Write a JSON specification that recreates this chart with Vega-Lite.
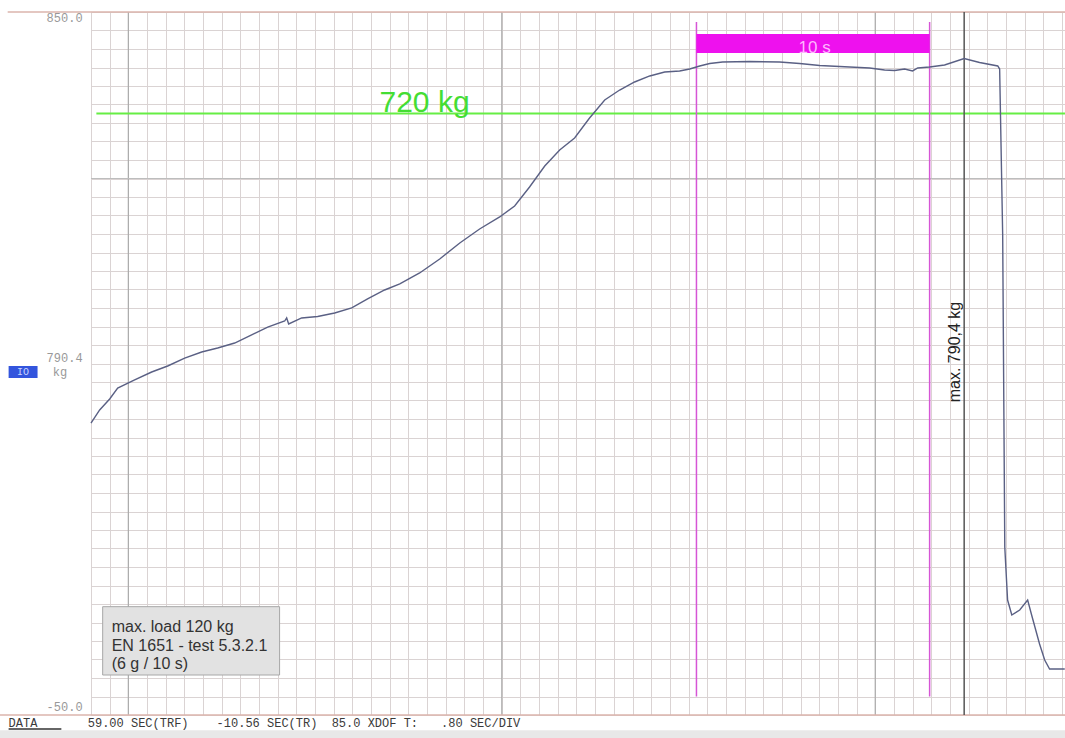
{
  "$schema": "https://vega.github.io/schema/vega-lite/v6.json",
  "width": 974,
  "height": 703,
  "autosize": "none",
  "padding": {"left": 91, "top": 12, "right": 0, "bottom": 23},
  "background": "white",
  "config": {"view": {"stroke": null}},
  "datasets": {
    "curve": [
      {"t": 0.0, "kg": 323.8}, {"t": 0.371, "kg": 340.5}, {"t": 0.8, "kg": 354.6}, {"t": 1.143, "kg": 368.6},
      {"t": 1.871, "kg": 378.9}, {"t": 2.599, "kg": 389.1}, {"t": 3.285, "kg": 396.8}, {"t": 4.013, "kg": 407.0},
      {"t": 4.742, "kg": 414.7}, {"t": 5.427, "kg": 419.8}, {"t": 6.156, "kg": 426.2}, {"t": 6.884, "kg": 436.5},
      {"t": 7.57, "kg": 446.7}, {"t": 8.298, "kg": 454.4}, {"t": 8.383, "kg": 458.3}, {"t": 8.469, "kg": 450.6},
      {"t": 9.026, "kg": 458.3}, {"t": 9.711, "kg": 460.2}, {"t": 10.44, "kg": 464.7}, {"t": 11.17, "kg": 471.1},
      {"t": 11.85, "kg": 482.6}, {"t": 12.58, "kg": 494.1}, {"t": 13.23, "kg": 501.8}, {"t": 14.08, "kg": 515.9},
      {"t": 14.94, "kg": 533.8}, {"t": 15.8, "kg": 554.3}, {"t": 16.65, "kg": 572.2}, {"t": 17.51, "kg": 587.6},
      {"t": 18.15, "kg": 601.6}, {"t": 18.79, "kg": 626.0}, {"t": 19.44, "kg": 652.8}, {"t": 20.08, "kg": 673.3},
      {"t": 20.72, "kg": 688.7}, {"t": 21.36, "kg": 714.3}, {"t": 22.01, "kg": 737.3}, {"t": 22.65, "kg": 750.1},
      {"t": 23.29, "kg": 760.4}, {"t": 23.94, "kg": 768.1}, {"t": 24.58, "kg": 773.2}, {"t": 25.22, "kg": 774.5},
      {"t": 25.65, "kg": 777.0}, {"t": 26.08, "kg": 780.9}, {"t": 26.51, "kg": 784.1}, {"t": 27.06, "kg": 786.0},
      {"t": 28.22, "kg": 786.6}, {"t": 29.5, "kg": 786.0}, {"t": 30.36, "kg": 784.1}, {"t": 31.22, "kg": 781.5},
      {"t": 32.5, "kg": 779.6}, {"t": 33.36, "kg": 778.3}, {"t": 34.0, "kg": 775.7}, {"t": 34.43, "kg": 775.1},
      {"t": 34.86, "kg": 777.0}, {"t": 35.2, "kg": 774.5}, {"t": 35.42, "kg": 778.3}, {"t": 35.93, "kg": 779.6},
      {"t": 36.57, "kg": 782.1}, {"t": 37.41, "kg": 790.4}, {"t": 38.07, "kg": 785.3}, {"t": 38.85, "kg": 780.9},
      {"t": 38.93, "kg": 777.0}, {"t": 39.06, "kg": 564.5}, {"t": 39.15, "kg": 165.1}, {"t": 39.27, "kg": 97.2},
      {"t": 39.45, "kg": 78.0}, {"t": 39.79, "kg": 84.4}, {"t": 40.13, "kg": 97.2}, {"t": 40.3, "kg": 78.0},
      {"t": 40.64, "kg": 40.9}, {"t": 40.86, "kg": 20.4}, {"t": 41.07, "kg": 8.9}, {"t": 41.72, "kg": 8.9}
    ],
    "grid_major_v": [
      {"t": 1.6, "t2": 1.6, "kg": -50, "kg2": 850},
      {"t": 17.6, "t2": 17.6, "kg": -50, "kg2": 850},
      {"t": 33.6, "t2": 33.6, "kg": -50, "kg2": 850}
    ],
    "grid_major_h": [
      {"t": 0, "t2": 41.73, "kg": 636.842, "kg2": 636.842}
    ],
    "frame": [
      {"t": -3.57, "t2": 41.73, "kg": 850, "kg2": 850},
      {"t": -3.91, "t2": 41.73, "kg": -50, "kg2": -50}
    ],
    "limit": [{"t": 0.23, "t2": 41.73, "kg": 720, "kg2": 720}],
    "window_lines": [
      {"t": 25.94, "t2": 25.94, "kg": -26.4, "kg2": 837.2},
      {"t": 35.93, "t2": 35.93, "kg": -26.4, "kg2": 837.2}
    ],
    "window_bar": [{"t": 25.94, "t2": 35.93, "kg": 797.5, "kg2": 821.8}],
    "max_line": [{"t": 37.41, "t2": 37.41, "kg": -50, "kg2": 850}],
    "note_box": [{"t": 0.5, "t2": 8.08, "kg": 1.2, "kg2": 88.7}],
    "note_text": [
      {"t": 0.886, "kg": 62.7, "label": "max. load 120 kg"},
      {"t": 0.886, "kg": 38.4, "label": "EN 1651 - test 5.3.2.1"},
      {"t": 0.886, "kg": 15.3, "label": "(6 g / 10 s)"}
    ],
    "limit_label": [{"t": 14.29, "kg": 722, "label": "720 kg"}],
    "window_label": [{"t": 31.0, "kg": 797.5, "label": "10 s"}],
    "max_label": [{"t": 37.01, "kg": 414.7, "label": "max. 790,4 kg"}],
    "scale_labels": [
      {"t": -0.36, "kg": 842.3, "label": "850.0"},
      {"t": -0.36, "kg": 407, "label": "790.4"},
      {"t": -0.36, "kg": -39.7, "label": "-50.0"}
    ],
    "unit_label": [{"t": -1.64, "kg": 389.1, "label": "kg"}],
    "channel_box": [{"t": -3.53, "t2": -2.29, "kg": 381.4, "kg2": 396.8}],
    "channel_label": [{"t": -2.91, "kg": 389.1, "label": "IO"}],
    "status": [
      {"t": -3.53, "kg": -60.2, "label": "DATA"},
      {"t": -0.14, "kg": -60.2, "label": "59.00 SEC(TRF)"},
      {"t": 5.38, "kg": -60.2, "label": "-10.56 SEC(TR)"},
      {"t": 10.31, "kg": -60.2, "label": "85.0 XDOF T:"},
      {"t": 15.0, "kg": -60.2, "label": ".80 SEC/DIV"}
    ],
    "status_underline": [{"t": -3.53, "t2": -1.27, "kg": -67.9, "kg2": -67.9}],
    "status_strip": [{"t": -3.92, "t2": 41.73, "kg": -85, "kg2": -69.5}]
  },
  "encoding": {
    "x": {
      "field": "t", "type": "quantitative",
      "scale": {"domain": [0, 41.73], "nice": false, "zero": false},
      "axis": {
        "values": [0, 0.8, 1.6, 2.4, 3.2, 4, 4.8, 5.6, 6.4, 7.2, 8, 8.8, 9.6, 10.4, 11.2, 12, 12.8, 13.6, 14.4, 15.2, 16, 16.8, 17.6, 18.4, 19.2, 20, 20.8, 21.6, 22.4, 23.2, 24, 24.8, 25.6, 26.4, 27.2, 28, 28.8, 29.6, 30.4, 31.2, 32, 32.8, 33.6, 34.4, 35.2, 36, 36.8, 37.6, 38.4, 39.2, 40, 40.8, 41.6],
        "grid": true, "gridColor": "#dad3d3", "gridWidth": 1,
        "labels": false, "ticks": false, "domain": false, "title": null
      }
    },
    "y": {
      "field": "kg", "type": "quantitative",
      "scale": {"domain": [-50, 850], "nice": false, "zero": false},
      "axis": {
        "values": [850, 826.316, 802.632, 778.947, 755.263, 731.579, 707.895, 684.211, 660.526, 636.842, 613.158, 589.474, 565.789, 542.105, 518.421, 494.737, 471.053, 447.368, 423.684, 400, 376.316, 352.632, 328.947, 305.263, 281.579, 257.895, 234.211, 210.526, 186.842, 163.158, 139.474, 115.789, 92.105, 68.421, 44.737, 21.053, -2.632, -26.316, -50],
        "grid": true, "gridColor": "#dad3d3", "gridWidth": 1,
        "labels": false, "ticks": false, "domain": false, "title": null
      }
    }
  },
  "layer": [
    {
      "data": {"name": "status_strip"},
      "mark": {"type": "rect", "color": "#e8e8e8"},
      "encoding": {"x2": {"field": "t2"}, "y2": {"field": "kg2"}}
    },
    {
      "data": {"name": "grid_major_v"},
      "mark": {"type": "rule", "color": "#ababab", "strokeWidth": 1.2},
      "encoding": {"x2": {"field": "t2"}, "y2": {"field": "kg2"}}
    },
    {
      "data": {"name": "grid_major_h"},
      "mark": {"type": "rule", "color": "#bdbdbd", "strokeWidth": 1},
      "encoding": {"x2": {"field": "t2"}, "y2": {"field": "kg2"}}
    },
    {
      "data": {"name": "frame"},
      "mark": {"type": "rule", "color": "#dbb5ad", "strokeWidth": 1.5},
      "encoding": {"x2": {"field": "t2"}, "y2": {"field": "kg2"}}
    },
    {
      "data": {"name": "limit"},
      "mark": {"type": "rule", "color": "#66ee44", "strokeWidth": 2},
      "encoding": {"x2": {"field": "t2"}, "y2": {"field": "kg2"}}
    },
    {
      "data": {"name": "window_lines"},
      "mark": {"type": "rule", "color": "#d655d6", "strokeWidth": 1.5},
      "encoding": {"x2": {"field": "t2"}, "y2": {"field": "kg2"}}
    },
    {
      "data": {"name": "window_bar"},
      "mark": {"type": "rect", "color": "#ee11ee"},
      "encoding": {"x2": {"field": "t2"}, "y2": {"field": "kg2"}}
    },
    {
      "data": {"name": "max_line"},
      "mark": {"type": "rule", "color": "#555555", "strokeWidth": 1.5},
      "encoding": {"x2": {"field": "t2"}, "y2": {"field": "kg2"}}
    },
    {
      "data": {"name": "curve"},
      "mark": {"type": "line", "color": "#5a6084", "strokeWidth": 1.4},
      "encoding": {}
    },
    {
      "data": {"name": "note_box"},
      "mark": {"type": "rect", "color": "#e2e2e2", "stroke": "#a8a8a8", "strokeWidth": 1},
      "encoding": {"x2": {"field": "t2"}, "y2": {"field": "kg2"}}
    },
    {
      "data": {"name": "note_text"},
      "mark": {"type": "text", "align": "left", "baseline": "middle", "font": "Liberation Sans", "fontSize": 16, "color": "#333333"},
      "encoding": {"text": {"field": "label"}}
    },
    {
      "data": {"name": "limit_label"},
      "mark": {"type": "text", "align": "center", "baseline": "alphabetic", "font": "Liberation Sans", "fontSize": 30, "color": "#44dd33"},
      "encoding": {"text": {"field": "label"}}
    },
    {
      "data": {"name": "window_label"},
      "mark": {"type": "text", "align": "center", "baseline": "alphabetic", "font": "Liberation Sans", "fontSize": 17, "color": "#ffb8ff"},
      "encoding": {"text": {"field": "label"}}
    },
    {
      "data": {"name": "max_label"},
      "mark": {"type": "text", "align": "center", "baseline": "middle", "angle": 270, "font": "Liberation Sans", "fontSize": 16, "color": "#222222"},
      "encoding": {"text": {"field": "label"}}
    },
    {
      "data": {"name": "scale_labels"},
      "mark": {"type": "text", "align": "right", "baseline": "middle", "font": "Liberation Mono", "fontSize": 12, "color": "#999999"},
      "encoding": {"text": {"field": "label"}}
    },
    {
      "data": {"name": "unit_label"},
      "mark": {"type": "text", "align": "left", "baseline": "middle", "font": "Liberation Mono", "fontSize": 12, "color": "#999999"},
      "encoding": {"text": {"field": "label"}}
    },
    {
      "data": {"name": "channel_box"},
      "mark": {"type": "rect", "color": "#3355dd"},
      "encoding": {"x2": {"field": "t2"}, "y2": {"field": "kg2"}}
    },
    {
      "data": {"name": "channel_label"},
      "mark": {"type": "text", "align": "center", "baseline": "middle", "font": "Liberation Mono", "fontSize": 10, "color": "#c8d4ff"},
      "encoding": {"text": {"field": "label"}}
    },
    {
      "data": {"name": "status"},
      "mark": {"type": "text", "align": "left", "baseline": "middle", "font": "Liberation Mono", "fontSize": 12, "color": "#3a3a3a"},
      "encoding": {"text": {"field": "label"}}
    },
    {
      "data": {"name": "status_underline"},
      "mark": {"type": "rule", "color": "#333333", "strokeWidth": 1.5},
      "encoding": {"x2": {"field": "t2"}, "y2": {"field": "kg2"}}
    }
  ]
}
